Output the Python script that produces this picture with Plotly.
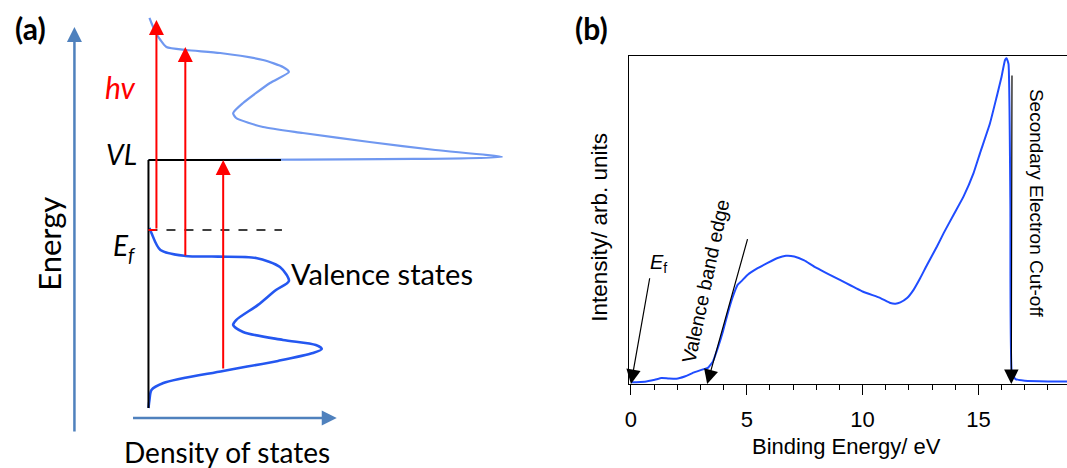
import plotly.graph_objects as go

W, H = 1067, 468

# ---------------- Panel (a): schematic density of states ----------------
# DOS in arbitrary units (0 = no states), energy in units with Ef = 0, VL = 1
dos_lower = [0.0, 0.01, 0.03, 0.15, 0.75, 1.30, 1.65, 1.74, 1.68, 1.35, 0.95, 0.85, 0.88,
             1.10, 1.28, 1.41, 1.32, 1.08, 0.70, 0.37, 0.12, 0.03, 0.01]
e_lower = [-2.543, -2.43, -2.286, -2.186, -2.014, -1.87, -1.757, -1.70, -1.643, -1.571,
           -1.457, -1.357, -1.286, -1.07, -0.857, -0.729, -0.529, -0.40, -0.38, -0.371,
           -0.286, -0.043, 0.03]
dos_upper = [0.0, 3.55, 2.88, 2.22, 1.55, 1.15, 0.88, 0.85, 0.95, 1.22, 1.41, 1.35, 1.15,
             0.72, 0.38, 0.18, 0.12, 0.07, 0.03, 0.01]
e_upper = [1.0, 1.043, 1.143, 1.257, 1.386, 1.471, 1.60, 1.671, 1.814, 2.10, 2.257, 2.329,
           2.429, 2.529, 2.571, 2.614, 2.714, 2.829, 2.957, 3.029]
E_F, E_VL = 0.0, 1.0
hv = 3.0
arrow_dos = [0.08, 0.37, 0.75]
arrow_start = [0.0, -0.386, -2.0]

# ---------------- Panel (b): UPS spectrum ----------------
be = [0.0, 0.6, 1.03, 1.32, 1.6, 1.96, 2.32, 2.75, 3.18, 3.32, 3.54, 3.75, 3.97, 4.18,
      4.40, 4.61, 4.76, 5.04, 5.47, 5.90, 6.33, 6.69, 7.05, 7.48, 7.91, 9.0, 10.0, 10.77,
      11.2, 11.42, 11.63, 11.92, 12.2, 12.49, 12.78, 13.21, 13.5, 13.93, 14.36, 14.79,
      15.07, 15.5, 15.79, 16.0, 16.15, 16.22, 16.3, 16.38, 16.45, 16.6, 17.0, 18.0, 18.9]
intensity = [0.005, 0.007, 0.013, 0.018, 0.017, 0.016, 0.023, 0.036, 0.046, 0.049, 0.069,
             0.110, 0.160, 0.216, 0.267, 0.303, 0.313, 0.333, 0.353, 0.369, 0.384, 0.391,
             0.389, 0.377, 0.358, 0.318, 0.282, 0.262, 0.247, 0.245, 0.249, 0.262, 0.287,
             0.323, 0.363, 0.419, 0.460, 0.516, 0.572, 0.643, 0.704, 0.795, 0.876, 0.937,
             0.988, 0.993, 0.975, 0.55, 0.03, 0.015, 0.010, 0.008, 0.008]
ef_pos, vbe_pos, cutoff_pos = 0.0, 3.29, 16.42

# domains / ranges (layout only)
xa_dom = [0, 587 / W]
xa_rng = [-1.45, -1.45 + 587 / 100]
ya_rng = [(230 - 468) / 70, 230 / 70]
xb_dom = [627 / W, 1.0]
xb_rng = [-0.1, -0.1 + (W - 627) / 23.25]
yb_dom = [(H - 384) / H, (H - 56) / H]

fig = go.Figure()
fig.add_trace(go.Scatter(x=dos_lower, y=e_lower, mode="lines", xaxis="x2", yaxis="y2",
                         line=dict(color="#2457f0", width=2.6, shape="spline", smoothing=0.8),
                         hoverinfo="skip"))
fig.add_trace(go.Scatter(x=dos_upper, y=e_upper, mode="lines", xaxis="x2", yaxis="y2",
                         line=dict(color="#7098f0", width=2.2, shape="spline", smoothing=0.6),
                         hoverinfo="skip"))
fig.add_trace(go.Scatter(x=be, y=intensity, mode="lines", xaxis="x", yaxis="y",
                         line=dict(color="#1f4cff", width=2, shape="spline", smoothing=0.4),
                         hoverinfo="skip"))

shapes = []
shapes.append(dict(type="line", xref="x2", yref="y2", x0=0, x1=0, y0=e_lower[0], y1=E_VL,
                   line=dict(color="black", width=2)))
shapes.append(dict(type="line", xref="x2", yref="y2", x0=0, x1=1.33, y0=E_VL, y1=E_VL,
                   line=dict(color="black", width=2)))
shapes.append(dict(type="line", xref="x2", yref="y2", x0=0, x1=1.34, y0=E_F, y1=E_F,
                   line=dict(color="black", width=1.5, dash="dash")))
shapes.append(dict(type="line", xref="x2", yref="y2", x0=0, x1=arrow_dos[0], y0=E_F, y1=E_F,
                   line=dict(color="red", width=2)))

annotations = []
for xd, e0 in zip(arrow_dos, arrow_start):
    annotations.append(dict(x=xd, y=e0 + hv, xref="x2", yref="y2", ax=xd, ay=e0,
                            axref="x2", ayref="y2", text="", showarrow=True,
                            arrowhead=2, arrowsize=1.5, arrowwidth=2, arrowcolor="red"))
axcol = "#4f81bd"
annotations.append(dict(x=-0.743, y=2.9, xref="x2", yref="y2", ax=-0.743, ay=-2.9,
                        axref="x2", ayref="y2", text="", showarrow=True, arrowhead=2,
                        arrowsize=1.2, arrowwidth=2.5, arrowcolor=axcol))
annotations.append(dict(x=1.89, y=-2.686, xref="x2", yref="y2", ax=-0.17, ay=-2.686,
                        axref="x2", ayref="y2", text="", showarrow=True, arrowhead=2,
                        arrowsize=1.2, arrowwidth=2.5, arrowcolor=axcol))

fa = "Lato"
def pa(text, x, y, size, color="black", angle=0, family=fa):
    annotations.append(dict(text=text, x=x / W, y=1 - y / H, xref="paper", yref="paper",
                            showarrow=False, xanchor="center", yanchor="middle",
                            textangle=angle, font=dict(family=family, size=size, color=color)))

pa("<b>(a)</b>", 27, 28, 30)
pa("<b>(b)</b>", 590, 28, 30)
pa("Energy", 45, 244, 31, angle=-90)
pa("Density of states", 224, 452, 28)
pa("Valence states", 379, 273, 29)
pa("<i>VL</i>", 118, 154, 28)
pa("<i>E<sub>f</sub></i>", 121, 247, 28)
pa("<i>hv</i>", 117, 87, 30, color="red")

fb = "Liberation Sans, Arial"
pa("Binding Energy/ eV", 846, 446, 22, family=fb)
pa("Intensity/ arb. units", 597, 227, 22.5, angle=-90, family=fb)
pa("<i>E</i><sub>f</sub>", 657, 263, 20, family=fb)
pa("Valence band edge", 704, 281, 19.5, angle=-78, family=fb)
pa("Secondary Electron Cut-off", 1037, 203, 19, angle=90, family=fb)

annotations.append(dict(x=ef_pos, y=0.0, xref="x", yref="y", ax=0.82, ay=0.327,
                        axref="x", ayref="y", text="", showarrow=True, arrowhead=2,
                        arrowsize=2.4, arrowwidth=1.2, arrowcolor="black"))
annotations.append(dict(x=vbe_pos, y=0.0, xref="x", yref="y", ax=5.05, ay=0.446,
                        axref="x", ayref="y", text="", showarrow=True, arrowhead=2,
                        arrowsize=2.4, arrowwidth=1.2, arrowcolor="black"))
annotations.append(dict(x=cutoff_pos, y=0.0, xref="x", yref="y", ax=cutoff_pos + 0.03, ay=0.945,
                        axref="x", ayref="y", text="", showarrow=True, arrowhead=2,
                        arrowsize=2.4, arrowwidth=1.2, arrowcolor="black"))

fig.update_layout(
    width=W, height=H, margin=dict(l=0, r=0, t=0, b=0),
    paper_bgcolor="white", plot_bgcolor="rgba(0,0,0,0)", showlegend=False,
    shapes=shapes, annotations=annotations,
    xaxis=dict(domain=xb_dom, range=xb_rng, showgrid=False, zeroline=False,
               showline=True, linecolor="black", linewidth=1.3, mirror=True,
               ticks="outside", ticklen=10, tickwidth=1.3, tickcolor="black",
               tickmode="array", tickvals=[0, 5, 10, 15], ticktext=["0", "5", "10", "15"],
               minor=dict(dtick=1, tick0=0, ticks="outside", ticklen=5, tickwidth=1.3,
                          tickcolor="black", showgrid=False),
               tickfont=dict(family=fb, size=22, color="black"), ticklabelstandoff=5),
    yaxis=dict(domain=yb_dom, range=[0, 1], showgrid=False, zeroline=False,
               showline=True, linecolor="black", linewidth=1.3, mirror=False,
               showticklabels=False, ticks=""),
    xaxis2=dict(domain=xa_dom, range=xa_rng, visible=False, anchor="y2"),
    yaxis2=dict(domain=[0, 1], range=ya_rng, visible=False, anchor="x2"),
)

fig.write_html("out.html")
